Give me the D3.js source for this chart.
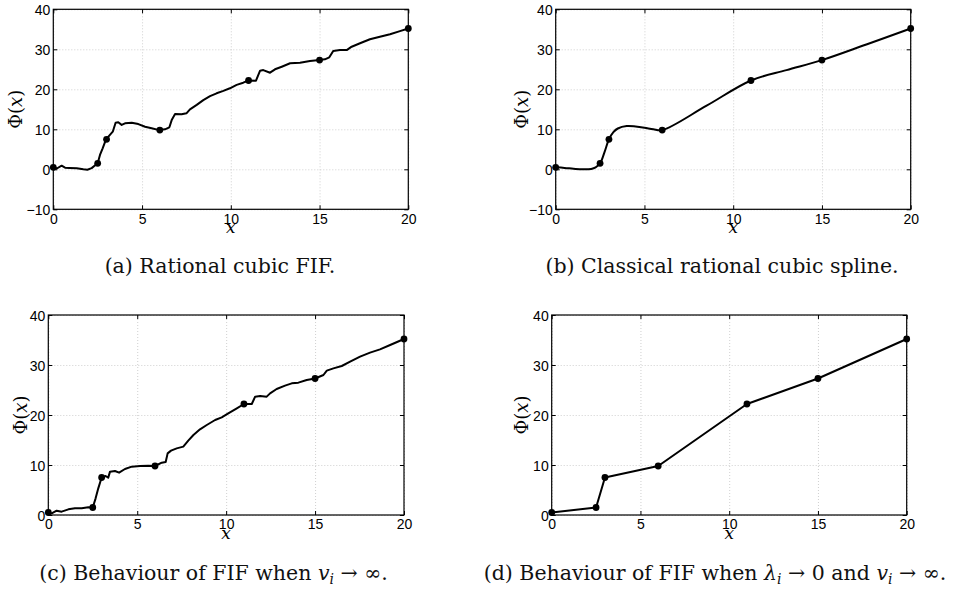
<!DOCTYPE html>
<html><head><meta charset="utf-8">
<script src="https://cdn.jsdelivr.net/npm/d3@7"></script>
<style>body{margin:0;background:#fff}</style></head>
<body><svg id="chart" width="957" height="591"></svg>
<script>
// ---- data ----
const knotX = [0, 2.5, 3, 6, 11, 15, 20];
const knotY = [0.5, 1.5, 7.5, 9.8, 22.2, 27.3, 35.2];
const xTicks = [0, 5, 10, 15, 20];
const yTicksTop = [-10, 0, 10, 20, 30, 40];
const yTicksBottom = [0, 10, 20, 30, 40];

const fifAX = [0,0.2,0.47,0.66,0.9,1.32,1.69,1.92,2.16,2.5,2.63,2.78,2.97,3.19,3.35,3.51,3.66,3.85,4.04,4.42,4.79,5.17,5.54,5.97,6.29,6.54,6.67,6.86,7.23,7.5,7.7,8.08,8.45,8.83,9.2,9.58,9.95,10.33,10.7,11.0,11.42,11.65,11.83,12.21,12.49,12.87,13.34,13.9,14.46,15.0,15.3,15.55,15.77,16.15,16.53,16.81,17.28,17.84,18.4,18.97,19.53,20];
const fifAY = [0.5,0.2,0.9,0.4,0.35,0.25,0,-0.1,0.3,1.5,3.6,5.25,7.5,8.6,9.4,11.65,11.75,11.1,11.5,11.65,11.3,10.65,10.25,9.8,10,10.5,12.3,13.8,13.75,14,15,16.1,17.3,18.3,19,19.6,20.25,21.1,21.65,22.2,22.15,24.65,24.8,24.15,25,25.65,26.5,26.65,27.1,27.3,27.5,28,29.6,29.8,29.8,30.65,31.5,32.5,33.15,33.75,34.55,35.2];

const splineBX = [0,0.5,1.0,1.5,2.0,2.25,2.5,2.75,3.0,3.25,3.5,4.0,4.5,5.0,5.5,6.0,8.5,11,13,15,17.5,20];
const splineBY = [0.5,0.35,0.15,0.0,0.1,0.5,1.5,4.3,7.5,9.3,10.2,10.8,10.7,10.4,10.0,9.8,15.9,22.2,24.8,27.3,31.2,35.2];

const fifCX = [0,0.19,0.47,0.75,1.13,1.5,1.88,2.25,2.5,2.66,2.81,3.0,3.22,3.37,3.47,3.75,3.98,4.31,4.69,5.16,5.62,6.0,6.38,6.6,6.71,6.9,7.22,7.59,7.87,8.16,8.53,8.91,9.38,9.75,10.12,10.6,11.0,11.44,11.63,11.91,12.28,12.47,12.84,13.31,13.69,14.06,14.53,15.0,15.47,15.66,16.03,16.5,16.97,17.53,18.09,18.65,19.22,20];
const fifCY = [0.5,0.33,0.87,0.67,1.13,1.33,1.33,1.53,1.5,3.33,5.33,7.5,7.8,7.47,8.67,8.8,8.47,9.2,9.67,9.8,9.87,9.8,10.47,10.6,12.33,12.87,13.33,13.67,14.87,16,17.13,18,19,19.53,20.33,21.33,22.2,22.2,23.67,23.8,23.67,24.33,25.2,25.87,26.33,26.47,27,27.3,28,28.87,29.33,29.8,30.67,31.67,32.47,33.13,34,35.2];

const captions = [
  [{t:"(a) Rational cubic FIF."}],
  [{t:"(b) Classical rational cubic spline."}],
  [{t:"(c) Behaviour of FIF when "},{t:"v",i:1},{t:"i",i:1,sub:1},{t:" \u2192 \u221E."}],
  [{t:"(d) Behaviour of FIF when "},{t:"\u03BB",i:1},{t:"i",i:1,sub:1},{t:" \u2192 0 and "},{t:"v",i:1},{t:"i",i:1,sub:1},{t:" \u2192 \u221E."}]
];

// ---- layout ----
const panels = [
  {l:53.3, r:408.3, t:9.3, b:209.3, yd:[-10,40], yt:yTicksTop, xs:fifAX, ys:fifAY, curve:d3.curveLinear, cap:captions[0], cx:220, cy:273, yo:31},
  {l:555.7, r:910.7, t:9.3, b:209.3, yd:[-10,40], yt:yTicksTop, xs:splineBX, ys:splineBY, curve:d3.curveCatmullRom.alpha(0.5), cap:captions[1], cx:722, cy:273, yo:28},
  {l:48.3, r:404, t:315, b:515, yd:[0,40], yt:yTicksBottom, xs:fifCX, ys:fifCY, curve:d3.curveLinear, cap:captions[2], cx:213.5, cy:580, yo:21},
  {l:551.7, r:906.7, t:315, b:515, yd:[0,40], yt:yTicksBottom, xs:knotX, ys:knotY, curve:d3.curveLinear, cap:captions[3], cx:715, cy:580, yo:24}
];

const svg = d3.select("#chart");
const sans = "'Liberation Sans', Arial, sans-serif";
const serif = "'DejaVu Serif', 'Liberation Serif', serif";

panels.forEach(p => {
  const x = d3.scaleLinear().domain([0,20]).range([p.l, p.r]);
  const y = d3.scaleLinear().domain(p.yd).range([p.b, p.t]);
  const g = svg.append("g");
  const W = p.r - p.l, H = p.b - p.t;

  // grid
  g.append("g").attr("transform",`translate(0,${p.b})`)
    .call(d3.axisBottom(x).tickValues(xTicks).tickSize(-H).tickFormat(""))
    .call(a=>a.select(".domain").remove())
    .call(a=>a.selectAll("line").attr("stroke","#c4c4c4").attr("stroke-dasharray","1,2").attr("stroke-width",0.8));
  g.append("g").attr("transform",`translate(${p.l},0)`)
    .call(d3.axisLeft(y).tickValues(p.yt).tickSize(-W).tickFormat(""))
    .call(a=>a.select(".domain").remove())
    .call(a=>a.selectAll("line").attr("stroke","#c4c4c4").attr("stroke-dasharray","1,2").attr("stroke-width",0.8));

  // inward ticks on all sides with labels
  const tk = 4;
  const bx = g.append("g").attr("transform",`translate(0,${p.b})`)
    .call(d3.axisBottom(x).tickValues(xTicks).tickSizeInner(-tk).tickSizeOuter(0).tickPadding(6));
  const tx = g.append("g").attr("transform",`translate(0,${p.t})`)
    .call(d3.axisTop(x).tickValues(xTicks).tickSizeInner(-tk).tickSizeOuter(0).tickFormat(""));
  const ly = g.append("g").attr("transform",`translate(${p.l},0)`)
    .call(d3.axisLeft(y).tickValues(p.yt).tickSizeInner(-tk).tickSizeOuter(0).tickPadding(3)
      .tickFormat(d => d < 0 ? "\u2212" + Math.abs(d) : d));
  const ry = g.append("g").attr("transform",`translate(${p.r},0)`)
    .call(d3.axisRight(y).tickValues(p.yt).tickSizeInner(-tk).tickSizeOuter(0).tickFormat(""));
  [bx,tx,ly,ry].forEach(a => {
    a.select(".domain").remove();
    a.selectAll("line").attr("stroke","#000").attr("stroke-width",1);
    a.selectAll("text").attr("font-family",sans).attr("font-size",14).attr("fill","#000");
  });
  bx.selectAll("text").attr("dy","0.6em");
  ly.selectAll("text").attr("dy","0.36em");

  // box
  g.append("rect").attr("x",p.l).attr("y",p.t).attr("width",W).attr("height",H)
    .attr("fill","none").attr("stroke","#000").attr("stroke-width",1.2);

  // curve
  const pts = p.xs.map((v,i)=>[v,p.ys[i]]);
  g.append("path").datum(pts)
    .attr("d", d3.line().x(d=>x(d[0])).y(d=>y(d[1])).curve(p.curve))
    .attr("fill","none").attr("stroke","#000").attr("stroke-width",2).attr("stroke-linejoin","round");

  // knots
  g.selectAll("circle.k").data(knotX.map((v,i)=>[v,knotY[i]])).join("circle")
    .attr("cx",d=>x(d[0])).attr("cy",d=>y(d[1])).attr("r",3.4).attr("fill","#000");

  // axis labels
  g.append("text").attr("x",(p.l+p.r)/2).attr("y",p.b+24)
    .attr("text-anchor","middle").attr("font-family",serif).attr("font-style","italic").attr("font-size",17).text("x");
  const yl = g.append("text").attr("transform",`translate(${p.l-p.yo},${(p.t+p.b)/2}) rotate(-90)`)
    .attr("text-anchor","middle").attr("font-family",serif).attr("font-size",18);
  yl.append("tspan").text("\u03A6(");
  yl.append("tspan").attr("font-style","italic").text("x");
  yl.append("tspan").text(")");

  // caption
  const c = svg.append("text").attr("x",p.cx).attr("y",p.cy).attr("text-anchor","middle")
    .attr("font-family",serif).attr("font-size",20.5).attr("fill","#111");
  let lowered = false;
  p.cap.forEach(s => {
    const ts = c.append("tspan").text(s.t);
    if (s.i) ts.attr("font-style","italic");
    if (s.sub) { ts.attr("font-size",14).attr("dy",4); lowered = true; }
    else if (lowered) { ts.attr("dy",-4); lowered = false; }
  });
});
</script></body></html>
